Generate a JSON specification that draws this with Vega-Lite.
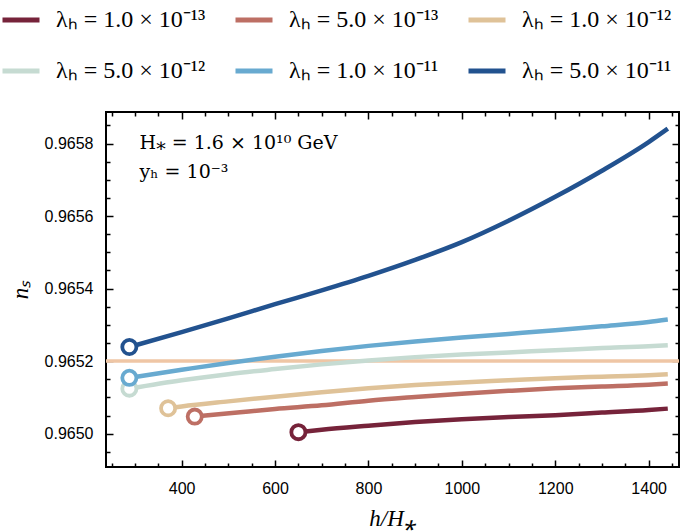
{
  "$schema": "https://vega.github.io/schema/vega-lite/v6.json",
  "width": 573,
  "height": 355,
  "autosize": {"type": "none"},
  "padding": {"left": 106, "top": 112, "right": 6, "bottom": 65},
  "background": "white",
  "config": {
    "view": {"stroke": "black", "strokeWidth": 2},
    "axis": {
      "domain": false,
      "grid": false,
      "tickColor": "black",
      "tickWidth": 1.5,
      "labelFont": "Liberation Sans",
      "labelFontSize": 16,
      "labelColor": "black",
      "titleFont": "Liberation Serif",
      "titleFontSize": 23,
      "titleFontWeight": "normal",
      "titleFontStyle": "italic",
      "titleColor": "black"
    }
  },
  "datasets": {
    "curves": [
      {"lam": "λₕ = 1.0 × 10⁻¹³", "h": 650, "ns": 0.965004},
      {"lam": "λₕ = 1.0 × 10⁻¹³", "h": 700, "ns": 0.965011},
      {"lam": "λₕ = 1.0 × 10⁻¹³", "h": 800, "ns": 0.965022},
      {"lam": "λₕ = 1.0 × 10⁻¹³", "h": 900, "ns": 0.965032},
      {"lam": "λₕ = 1.0 × 10⁻¹³", "h": 1000, "ns": 0.96504},
      {"lam": "λₕ = 1.0 × 10⁻¹³", "h": 1100, "ns": 0.965046},
      {"lam": "λₕ = 1.0 × 10⁻¹³", "h": 1200, "ns": 0.965051},
      {"lam": "λₕ = 1.0 × 10⁻¹³", "h": 1300, "ns": 0.965058},
      {"lam": "λₕ = 1.0 × 10⁻¹³", "h": 1400, "ns": 0.965065},
      {"lam": "λₕ = 1.0 × 10⁻¹³", "h": 1441, "ns": 0.965069},

      {"lam": "λₕ = 5.0 × 10⁻¹³", "h": 428, "ns": 0.965047},
      {"lam": "λₕ = 5.0 × 10⁻¹³", "h": 525, "ns": 0.965059},
      {"lam": "λₕ = 5.0 × 10⁻¹³", "h": 600, "ns": 0.965068},
      {"lam": "λₕ = 5.0 × 10⁻¹³", "h": 700, "ns": 0.965078},
      {"lam": "λₕ = 5.0 × 10⁻¹³", "h": 800, "ns": 0.965091},
      {"lam": "λₕ = 5.0 × 10⁻¹³", "h": 900, "ns": 0.965101},
      {"lam": "λₕ = 5.0 × 10⁻¹³", "h": 1000, "ns": 0.96511},
      {"lam": "λₕ = 5.0 × 10⁻¹³", "h": 1100, "ns": 0.965118},
      {"lam": "λₕ = 5.0 × 10⁻¹³", "h": 1200, "ns": 0.965125},
      {"lam": "λₕ = 5.0 × 10⁻¹³", "h": 1300, "ns": 0.96513},
      {"lam": "λₕ = 5.0 × 10⁻¹³", "h": 1400, "ns": 0.965135},
      {"lam": "λₕ = 5.0 × 10⁻¹³", "h": 1441, "ns": 0.965138},

      {"lam": "λₕ = 1.0 × 10⁻¹²", "h": 371, "ns": 0.96507},
      {"lam": "λₕ = 1.0 × 10⁻¹²", "h": 400, "ns": 0.965075},
      {"lam": "λₕ = 1.0 × 10⁻¹²", "h": 500, "ns": 0.965089},
      {"lam": "λₕ = 1.0 × 10⁻¹²", "h": 600, "ns": 0.965102},
      {"lam": "λₕ = 1.0 × 10⁻¹²", "h": 700, "ns": 0.965114},
      {"lam": "λₕ = 1.0 × 10⁻¹²", "h": 800, "ns": 0.965125},
      {"lam": "λₕ = 1.0 × 10⁻¹²", "h": 900, "ns": 0.965134},
      {"lam": "λₕ = 1.0 × 10⁻¹²", "h": 1000, "ns": 0.965141},
      {"lam": "λₕ = 1.0 × 10⁻¹²", "h": 1100, "ns": 0.965147},
      {"lam": "λₕ = 1.0 × 10⁻¹²", "h": 1200, "ns": 0.965153},
      {"lam": "λₕ = 1.0 × 10⁻¹²", "h": 1300, "ns": 0.965157},
      {"lam": "λₕ = 1.0 × 10⁻¹²", "h": 1400, "ns": 0.965161},
      {"lam": "λₕ = 1.0 × 10⁻¹²", "h": 1441, "ns": 0.965164},

      {"lam": "λₕ = 5.0 × 10⁻¹²", "h": 288, "ns": 0.965124},
      {"lam": "λₕ = 5.0 × 10⁻¹²", "h": 400, "ns": 0.965147},
      {"lam": "λₕ = 5.0 × 10⁻¹²", "h": 500, "ns": 0.965164},
      {"lam": "λₕ = 5.0 × 10⁻¹²", "h": 600, "ns": 0.965178},
      {"lam": "λₕ = 5.0 × 10⁻¹²", "h": 700, "ns": 0.965191},
      {"lam": "λₕ = 5.0 × 10⁻¹²", "h": 800, "ns": 0.965202},
      {"lam": "λₕ = 5.0 × 10⁻¹²", "h": 900, "ns": 0.965211},
      {"lam": "λₕ = 5.0 × 10⁻¹²", "h": 1000, "ns": 0.965218},
      {"lam": "λₕ = 5.0 × 10⁻¹²", "h": 1100, "ns": 0.965224},
      {"lam": "λₕ = 5.0 × 10⁻¹²", "h": 1200, "ns": 0.96523},
      {"lam": "λₕ = 5.0 × 10⁻¹²", "h": 1300, "ns": 0.965236},
      {"lam": "λₕ = 5.0 × 10⁻¹²", "h": 1400, "ns": 0.965241},
      {"lam": "λₕ = 5.0 × 10⁻¹²", "h": 1441, "ns": 0.965244},

      {"lam": "λₕ = 1.0 × 10⁻¹¹", "h": 288, "ns": 0.965154},
      {"lam": "λₕ = 1.0 × 10⁻¹¹", "h": 400, "ns": 0.965176},
      {"lam": "λₕ = 1.0 × 10⁻¹¹", "h": 500, "ns": 0.965195},
      {"lam": "λₕ = 1.0 × 10⁻¹¹", "h": 600, "ns": 0.965212},
      {"lam": "λₕ = 1.0 × 10⁻¹¹", "h": 700, "ns": 0.965228},
      {"lam": "λₕ = 1.0 × 10⁻¹¹", "h": 800, "ns": 0.965242},
      {"lam": "λₕ = 1.0 × 10⁻¹¹", "h": 900, "ns": 0.965254},
      {"lam": "λₕ = 1.0 × 10⁻¹¹", "h": 1000, "ns": 0.965265},
      {"lam": "λₕ = 1.0 × 10⁻¹¹", "h": 1100, "ns": 0.965275},
      {"lam": "λₕ = 1.0 × 10⁻¹¹", "h": 1200, "ns": 0.965285},
      {"lam": "λₕ = 1.0 × 10⁻¹¹", "h": 1300, "ns": 0.965296},
      {"lam": "λₕ = 1.0 × 10⁻¹¹", "h": 1400, "ns": 0.965308},
      {"lam": "λₕ = 1.0 × 10⁻¹¹", "h": 1441, "ns": 0.965315},

      {"lam": "λₕ = 5.0 × 10⁻¹¹", "h": 288, "ns": 0.965239},
      {"lam": "λₕ = 5.0 × 10⁻¹¹", "h": 400, "ns": 0.96528},
      {"lam": "λₕ = 5.0 × 10⁻¹¹", "h": 500, "ns": 0.965318},
      {"lam": "λₕ = 5.0 × 10⁻¹¹", "h": 600, "ns": 0.965357},
      {"lam": "λₕ = 5.0 × 10⁻¹¹", "h": 700, "ns": 0.965395},
      {"lam": "λₕ = 5.0 × 10⁻¹¹", "h": 800, "ns": 0.965435},
      {"lam": "λₕ = 5.0 × 10⁻¹¹", "h": 900, "ns": 0.965479},
      {"lam": "λₕ = 5.0 × 10⁻¹¹", "h": 1000, "ns": 0.965528},
      {"lam": "λₕ = 5.0 × 10⁻¹¹", "h": 1100, "ns": 0.965587},
      {"lam": "λₕ = 5.0 × 10⁻¹¹", "h": 1200, "ns": 0.965653},
      {"lam": "λₕ = 5.0 × 10⁻¹¹", "h": 1300, "ns": 0.965725},
      {"lam": "λₕ = 5.0 × 10⁻¹¹", "h": 1400, "ns": 0.965804},
      {"lam": "λₕ = 5.0 × 10⁻¹¹", "h": 1441, "ns": 0.965841}
    ],
    "reference": [{"ns": 0.9652}],
    "notes": [
      {"line": 1, "t": "H⁎ = 1.6 × 10¹⁰ GeV"},
      {"line": 2, "t": "yₕ = 10⁻³"}
    ]
  },
  "layer": [
    {
      "data": {"name": "reference"},
      "mark": {"type": "rule", "color": "#efc6a5", "strokeWidth": 3.5},
      "encoding": {
        "y": {"field": "ns", "type": "quantitative", "axis": null,
              "scale": {"domain": [0.964908, 0.965887], "zero": false, "nice": false}}
      }
    },
    {
      "data": {"name": "curves"},
      "mark": {"type": "line", "strokeWidth": 4.5, "clip": true, "interpolate": "monotone"},
      "encoding": {
        "x": {"field": "h", "type": "quantitative",
              "scale": {"domain": [238, 1465], "zero": false, "nice": false},
              "axis": {"orient": "bottom", "title": "h/H⁎", "format": "d",
                       "values": [250,300,350,400,450,500,550,600,650,700,750,800,850,900,950,1000,1050,1100,1150,1200,1250,1300,1350,1400,1450],
                       "labelExpr": "datum.value % 200 === 0 ? datum.label : ''",
                       "tickSize": {"condition": {"test": "datum.value % 200 === 0", "value": -7}, "value": -4},
                       "labelPadding": 20, "titlePadding": 11}},
        "y": {"field": "ns", "type": "quantitative",
              "scale": {"domain": [0.964908, 0.965887], "zero": false, "nice": false},
              "axis": {"orient": "left", "title": "nₛ", "format": ".4f",
                       "values": [0.96495,0.965,0.96505,0.9651,0.96515,0.9652,0.96525,0.9653,0.96535,0.9654,0.96545,0.9655,0.96555,0.9656,0.96565,0.9657,0.96575,0.9658,0.96585],
                       "labelExpr": "round(datum.value*100000) % 20 === 0 ? datum.label : ''",
                       "tickSize": {"condition": {"test": "round(datum.value*100000) % 20 === 0", "value": -7}, "value": -4},
                       "labelPadding": 20, "titlePadding": 12}},
        "color": {"field": "lam", "type": "nominal",
                  "scale": {"domain": ["λₕ = 1.0 × 10⁻¹³", "λₕ = 5.0 × 10⁻¹³", "λₕ = 1.0 × 10⁻¹²", "λₕ = 5.0 × 10⁻¹²", "λₕ = 1.0 × 10⁻¹¹", "λₕ = 5.0 × 10⁻¹¹"],
                            "range": ["#76233a", "#bd6f64", "#dfc298", "#c6dbd2", "#68aad0", "#22528f"]},
                  "legend": {"orient": "none", "legendX": -106, "legendY": -113, "title": null,
                             "direction": "horizontal", "columns": 3, "gridAlign": "all",
                             "symbolType": "stroke", "symbolSize": 1369, "symbolStrokeWidth": 5,
                             "labelFont": "Liberation Serif", "labelFontSize": 24, "labelColor": "black",
                             "labelOffset": 14, "rowPadding": 18, "columnPadding": 19, "padding": 0, "labelLimit": 300}}
      }
    },
    {
      "data": {"name": "curves"},
      "transform": [
        {"joinaggregate": [{"op": "min", "field": "h", "as": "hmin"}], "groupby": ["lam"]},
        {"filter": "datum.h === datum.hmin"}
      ],
      "mark": {"type": "point", "filled": false, "fill": "white", "strokeWidth": 3.8, "size": 200, "opacity": 1},
      "encoding": {
        "x": {"field": "h", "type": "quantitative",
              "scale": {"domain": [238, 1465], "zero": false, "nice": false},
              "axis": {"orient": "top", "title": null, "labels": false,
                       "values": [250,300,350,400,450,500,550,600,650,700,750,800,850,900,950,1000,1050,1100,1150,1200,1250,1300,1350,1400,1450],
                       "tickSize": {"condition": {"test": "datum.value % 200 === 0", "value": -7}, "value": -4}}},
        "y": {"field": "ns", "type": "quantitative",
              "scale": {"domain": [0.964908, 0.965887], "zero": false, "nice": false},
              "axis": {"orient": "right", "title": null, "labels": false,
                       "values": [0.96495,0.965,0.96505,0.9651,0.96515,0.9652,0.96525,0.9653,0.96535,0.9654,0.96545,0.9655,0.96555,0.9656,0.96565,0.9657,0.96575,0.9658,0.96585],
                       "tickSize": {"condition": {"test": "round(datum.value*100000) % 20 === 0", "value": -7}, "value": -4}}},
        "color": {"field": "lam", "type": "nominal"}
      }
    },
    {
      "data": {"name": "notes"},
      "transform": [{"filter": "datum.line === 1"}],
      "mark": {"type": "text", "align": "left", "baseline": "middle", "font": "DejaVu Serif", "fontSize": 19, "color": "black"},
      "encoding": {
        "x": {"datum": 310, "type": "quantitative", "axis": null},
        "y": {"datum": 0.965802, "type": "quantitative", "axis": null},
        "text": {"field": "t"}
      }
    },
    {
      "data": {"name": "notes"},
      "transform": [{"filter": "datum.line === 2"}],
      "mark": {"type": "text", "align": "left", "baseline": "middle", "font": "DejaVu Serif", "fontSize": 19, "color": "black"},
      "encoding": {
        "x": {"datum": 310, "type": "quantitative", "axis": null},
        "y": {"datum": 0.965722, "type": "quantitative", "axis": null},
        "text": {"field": "t"}
      }
    }
  ],
  "resolve": {"axis": {"x": "independent", "y": "independent"}}
}
